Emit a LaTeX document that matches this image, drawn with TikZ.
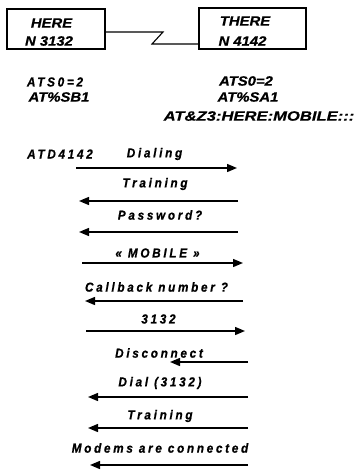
\documentclass[tikz,border=0pt]{standalone}
\usepackage{fontspec}
\setmainfont{Liberation Sans}
\newfontfamily\widefont[FakeStretch=1.1,FakeBold=0.6]{Liberation Sans}
\newfontfamily\widerfont[FakeStretch=1.23,FakeBold=0.6]{Liberation Sans}
\newfontfamily\spacedfont[FakeStretch=0.9,LetterSpace=21,FakeBold=0.8]{Liberation Sans}
\usetikzlibrary{arrows.meta}
\tikzset{
  boxnode/.style={draw, line width=1.1pt, inner sep=0pt},
  cmd/.style={font=\widefont\fontsize{13.5}{16}\selectfont\bfseries\itshape, inner sep=0pt},
  widecmd/.style={font=\widerfont\fontsize{13.5}{16}\selectfont\bfseries\itshape, inner sep=0pt},
  lbl/.style={font=\spacedfont\fontsize{13}{15}\selectfont\bfseries\itshape, inner sep=0pt},
  msg/.style={line width=1.4pt, -{Triangle[length=10pt,width=8pt]}},
  link/.style={line width=1.1pt},
}
\begin{document}
\begin{tikzpicture}[x=1pt,y=-1pt]
\useasboundingbox (0,0) rectangle (359,471);
% boxes
\node[boxnode, minimum width=98pt, minimum height=40pt] (hereBox) at (56,29) {};
\node[boxnode, minimum width=107pt, minimum height=41pt] (thereBox) at (252.5,28.5) {};
\node[cmd] (hereT) at (51.5,23) {HERE};
\node[cmd] (hereN) at (49,41) {N 3132};
\node[cmd] (thereT) at (245,21) {THERE};
\node[cmd] (thereN) at (242.5,41) {N 4142};
% link
\coordinate (zA) at (163,32);
\coordinate (zB) at (152,44);
\draw[link] (hereBox.east |- zA) -- (zA) -- (zB) -- (thereBox.west |- zB);
% commands
\node[lbl] (lats) at (55,82) {ATS0=2};
\node[cmd] (lsb) at (59,97) {AT\%SB1};
\node[cmd] (rats) at (246,81) {ATS0=2};
\node[cmd] (rsa) at (248,97) {AT\%SA1};
\node[widecmd] (rz) at (259,116) {AT\&Z3:HERE:MOBILE:::};
% messages
\node[lbl] (atd) at (60,154) {ATD4142};
\node[lbl] (m1) at (154.5,154) {Dialing};
\node[lbl] (m2) at (155,184) {Training};
\node[lbl] (m3) at (160,215) {Password?};
\node[lbl] (m4) at (157.5,253) {« MOBILE »};
\node[lbl] (m5) at (156.5,287) {Callback number ?};
\node[lbl] (m6) at (158.5,319) {3132};
\node[lbl] (m7) at (159,353) {Disconnect};
\node[lbl] (m8) at (160,383) {Dial (3132)};
\node[lbl] (m9) at (160,416) {Training};
\node[lbl] (m10) at (160,448) {Modems are connected};
% arrow ends
\coordinate (a1l) at (76,168);  \coordinate (a1r) at (237,168);
\coordinate (a2l) at (79,201);  \coordinate (a2r) at (238,201);
\coordinate (a3l) at (79,232);  \coordinate (a3r) at (238,232);
\coordinate (a4l) at (82,263);  \coordinate (a4r) at (243,263);
\coordinate (a5l) at (85,301);  \coordinate (a5r) at (243,301);
\coordinate (a6l) at (86,331);  \coordinate (a6r) at (245,331);
\coordinate (a7l) at (170,362); \coordinate (a7r) at (248,362);
\coordinate (a8l) at (88,397);  \coordinate (a8r) at (248,397);
\coordinate (a9l) at (88,428);  \coordinate (a9r) at (248,428);
\coordinate (a10l) at (90,465); \coordinate (a10r) at (248,465);
\draw[msg] (a1l) -- (a1r);
\draw[msg] (a2r) -- (a2l);
\draw[msg] (a3r) -- (a3l);
\draw[msg] (a4l) -- (a4r);
\draw[msg] (a5r) -- (a5l);
\draw[msg] (a6l) -- (a6r);
\draw[msg] (a7r) -- (a7l);
\draw[msg] (a8r) -- (a8l);
\draw[msg] (a9r) -- (a9l);
\draw[msg] (a10r) -- (a10l);
\end{tikzpicture}
\end{document}
